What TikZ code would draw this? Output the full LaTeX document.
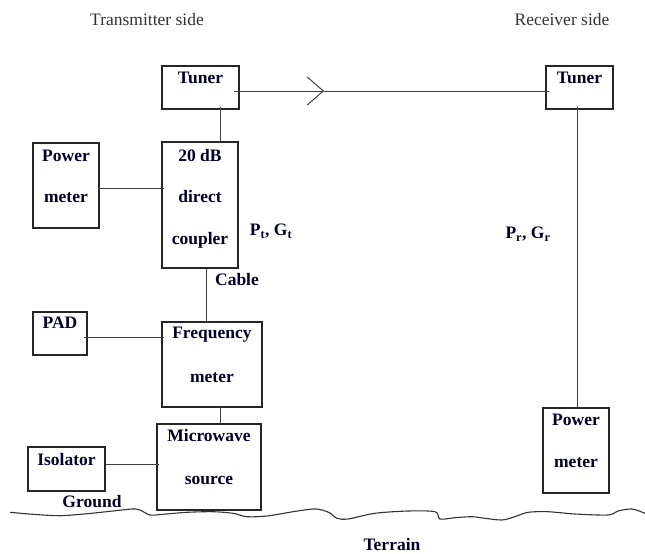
\documentclass[tikz,border=0pt]{standalone}
\usepackage{fontspec}
\setmainfont{Liberation Serif}
\usetikzlibrary{calc,decorations.markings}
\begin{document}
\begin{tikzpicture}[x=1pt,y=-1pt,
  box/.style={draw=black!85, line width=1.1pt, inner sep=0pt},
  lbl/.style={font=\fontsize{17.5}{20}\selectfont\bfseries, text=black!85!blue, inner sep=0pt, text height=11.6pt, text depth=0pt},
  sidecap/.style={font=\fontsize{17.5}{20}\selectfont, text=black!80, inner sep=0pt, text height=11.6pt, text depth=0pt},
  wire/.style={draw=black!75, line width=1pt}]
\useasboundingbox (0,0) rectangle (645,554);

% side captions
\node[sidecap] (txside) at (147,20) {Transmitter side};
\node[sidecap] (rxside) at (562,20) {Receiver side};

% boxes
\node[box, minimum width=77pt, minimum height=43pt] (t1) at (200.5,87.5) {};
\node[box, minimum width=76pt, minimum height=126pt] (cpl) at (200,205) {};
\node[box, minimum width=66pt, minimum height=85pt] (pm1) at (66,185.5) {};
\node[box, minimum width=54pt, minimum height=43pt] (pad) at (60,333.5) {};
\node[box, minimum width=100pt, minimum height=85pt] (fm) at (212,364.5) {};
\node[box, minimum width=104pt, minimum height=86pt] (mw) at (209,467) {};
\node[box, minimum width=77pt, minimum height=44pt] (iso) at (66.5,469) {};
\node[box, minimum width=67pt, minimum height=43pt] (t2) at (579.5,87.5) {};
\node[box, minimum width=66pt, minimum height=85pt] (pm2) at (576,450.5) {};

% box texts
\node[lbl] (t1a) at (200.5,78) {Tuner};
\node[lbl] (cpla) at (200,156) {20 dB};
\node[lbl] (cplb) at (200,197) {direct};
\node[lbl] (cplc) at (200,239) {coupler};
\node[lbl] (pm1a) at (66,156) {Power};
\node[lbl] (pm1b) at (66,197) {meter};
\node[lbl] (pada) at (60,323) {PAD};
\node[lbl] (fma) at (212,333) {Frequency};
\node[lbl] (fmb) at (212,377) {meter};
\node[lbl] (mwa) at (209,436) {Microwave};
\node[lbl] (mwb) at (209,479) {source};
\node[lbl] (isoa) at (66.5,460) {Isolator};
\node[lbl] (t2a) at (579.5,78) {Tuner};
\node[lbl] (pm2a) at (576,420) {Power};
\node[lbl] (pm2b) at (576,462) {meter};

% other labels
\node[lbl] (ptgt) at (271,230) {P\textsubscript{t}, G\textsubscript{t}};
\node[lbl] (prgr) at (528,233) {P\textsubscript{r}, G\textsubscript{r}};
\node[lbl] (cable) at (237,280) {Cable};
\node[lbl] (ground) at (92,502) {Ground};
\node[lbl] (terrain) at (392,545) {Terrain};

% connectors
\draw[wire, postaction={decorate}, decoration={markings,
  mark=at position 0.284 with {\draw[line width=1pt] (-16pt,-14pt) -- (0pt,0pt) -- (-16pt,14pt);}}]
  ($(t1.east)+(-6,3.5)$) -- ($(t2.west)+(4,3.5)$);
\draw[wire] ($(t1.south)+(19.5,-3)$) -- ($(cpl.north)+(20,1)$);
\draw[wire] ($(pm1.east)+(-2,2.5)$) -- ($(cpl.west)+(3,-17)$);
\draw[wire] ($(cpl.south)+(6,0)$) -- ($(fm.north)+(-6,0)$);
\draw[wire] ($(pad.east)+(-4,3.5)$) -- ($(fm.west)+(3,-27.5)$);
\draw[wire] ($(fm.south)+(8,0)$) -- ($(mw.north)+(11,0)$);
\draw[wire] ($(iso.east)+(0,-5)$) -- ($(mw.west)+(3,-3)$);
\draw[wire] ($(t2.south)+(-2.5,-3)$) -- ($(pm2.north)+(1,0)$);

% terrain
\draw[black!80, line width=1.1pt] plot[smooth, tension=0.5] coordinates {
(10,512.3) (33,514.3) (60,515.7) (87,513.7) (113,511) (132,509) (140,510) (150,515)
(163,514.3) (187,512.3) (213,511.7) (233,513.3) (247,516.7) (267,516) (293,511.7)
(313,509) (322,510) (330,513) (337,518.3) (348,519) (375,513.3) (408,511) (435,511.7)
(440,519) (455,517.7) (472,516.7) (485,518.3) (502,520) (515,516.7) (528,512.3)
(548,511.7) (575,514) (608,515) (618,511) (632,509) (645,513.3)};
\end{tikzpicture}
\end{document}
